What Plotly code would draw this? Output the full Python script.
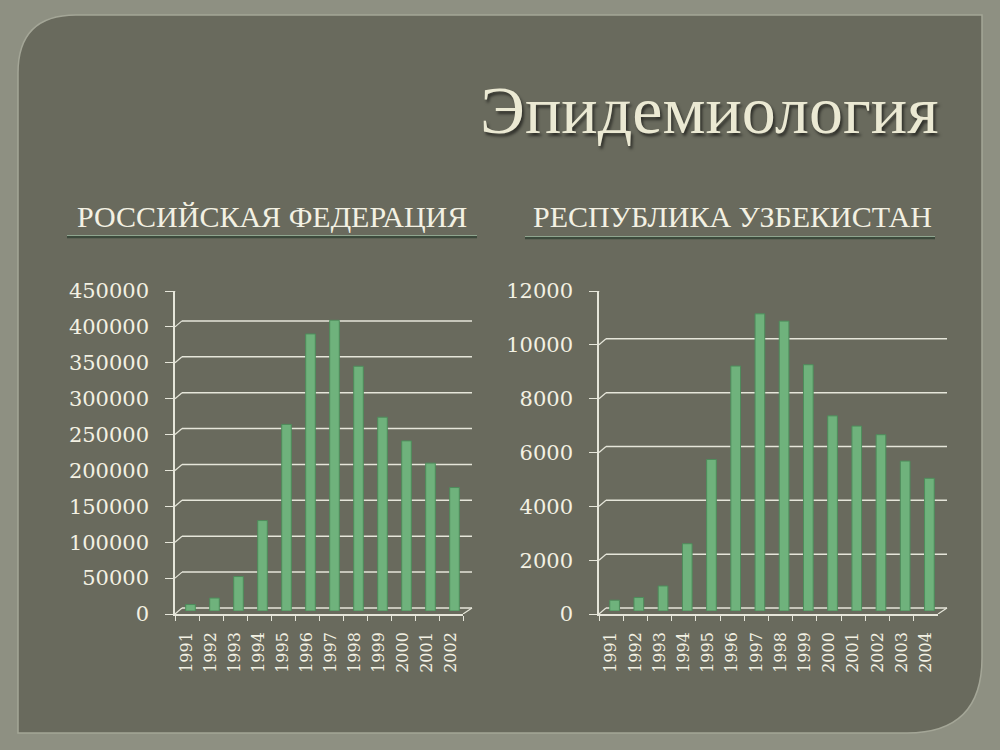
import plotly.graph_objects as go

# ---- data ----
title_text = "Эпидемиология"
left_title = "РОССИЙСКАЯ ФЕДЕРАЦИЯ"
right_title = "РЕСПУБЛИКА УЗБЕКИСТАН"

ru_years = ["1991", "1992", "1993", "1994", "1995", "1996", "1997", "1998", "1999", "2000", "2001", "2002"]
ru_values = [9000, 18000, 48000, 126000, 260000, 386000, 405000, 341000, 270000, 237000, 206000, 172000]

uz_years = ["1991", "1992", "1993", "1994", "1995", "1996", "1997", "1998", "1999", "2000", "2001", "2002", "2003", "2004"]
uz_values = [400, 500, 930, 2500, 5630, 9100, 11040, 10770, 9150, 7250, 6870, 6550, 5570, 4930]

ru_ticks = [0, 50000, 100000, 150000, 200000, 250000, 300000, 350000, 400000, 450000]
uz_ticks = [0, 2000, 4000, 6000, 8000, 10000, 12000]

# ---- style ----
W, H = 1000, 750
FRAME = "#8e9082"
PANEL = "#696a5d"
TXT = "#f3f1e3"
GRID = "#e6e6da"
BAR = "#6fb27c"
BAR_EDGE = "#4e8c5b"

def px(x, y):
    return x / W, 1 - y / H

y_top, y_bot = 291, 614
left_px = (175, 463)
right_px = (599, 938)
DX, DY = 7, 6   # 3D depth offset in pixels
ydom = [1 - y_bot / H, 1 - y_top / H]
# bars sit half-way into the depth of the 3D box
ydom_mid = [1 - (y_bot - DY / 2) / H, 1 - (y_top - DY / 2) / H]

fig = go.Figure()

# invisible traces keep the front (labelled) axes populated
fig.add_trace(go.Scatter(x=ru_years, y=ru_values, xaxis="x", yaxis="y", mode="markers",
                         marker=dict(opacity=0), showlegend=False, hoverinfo="skip"))
fig.add_trace(go.Scatter(x=uz_years, y=uz_values, xaxis="x2", yaxis="y2", mode="markers",
                         marker=dict(opacity=0), showlegend=False, hoverinfo="skip"))
# visible bars on the mid-depth axes
fig.add_trace(go.Bar(x=ru_years, y=ru_values, xaxis="x3", yaxis="y3",
                     marker=dict(color=BAR, line=dict(color=BAR_EDGE, width=1)),
                     width=0.4, showlegend=False, hoverinfo="skip"))
fig.add_trace(go.Bar(x=uz_years, y=uz_values, xaxis="x4", yaxis="y4",
                     marker=dict(color=BAR, line=dict(color=BAR_EDGE, width=1)),
                     width=0.4, showlegend=False, hoverinfo="skip"))

tickfont_y = dict(family="DejaVu Serif", size=21, color=TXT)
tickfont_x = dict(family="DejaVu Serif", size=16, color=TXT)

common_x = dict(type="category", tickangle=-90, tickfont=tickfont_x, showgrid=False,
                showline=True, linecolor=GRID, linewidth=1.5, ticks="outside",
                tickcolor=GRID, ticklen=5, tickson="boundaries", zeroline=False,
                ticklabelstandoff=10, automargin=False)
common_y = dict(tickfont=tickfont_y, showgrid=False,
                showline=True, linecolor=GRID, linewidth=1.5, ticks="outside",
                tickcolor=GRID, ticklen=8, zeroline=False, ticklabelstandoff=12,
                automargin=False)
hidden = dict(visible=False, showgrid=False, zeroline=False, automargin=False)

def dom(a, b, shift=0):
    return [(a + shift) / W, (b + shift) / W]

fig.update_layout(
    width=W, height=H,
    margin=dict(l=0, r=0, t=0, b=0, pad=0, autoexpand=False),
    paper_bgcolor=FRAME,
    plot_bgcolor="rgba(0,0,0,0)",
    xaxis=dict(domain=dom(*left_px), anchor="y", range=[-0.5, len(ru_years) - 0.5], **common_x),
    yaxis=dict(domain=ydom, anchor="x", range=[0, 450000], tickvals=ru_ticks,
               ticktext=[str(v) for v in ru_ticks], **common_y),
    xaxis2=dict(domain=dom(*right_px), anchor="y2", range=[-0.5, len(uz_years) - 0.5], **common_x),
    yaxis2=dict(domain=ydom, anchor="x2", range=[0, 12000], tickvals=uz_ticks,
                ticktext=[str(v) for v in uz_ticks], **common_y),
    xaxis3=dict(domain=dom(*left_px, DX / 2), anchor="y3", type="category",
                range=[-0.5, len(ru_years) - 0.5], **hidden),
    yaxis3=dict(domain=ydom_mid, anchor="x3", range=[0, 450000], **hidden),
    xaxis4=dict(domain=dom(*right_px, DX / 2), anchor="y4", type="category",
                range=[-0.5, len(uz_years) - 0.5], **hidden),
    yaxis4=dict(domain=ydom_mid, anchor="x4", range=[0, 12000], **hidden),
)

# ---- panel with rounded top-left and bottom-right corners ----
L, T, R, B = 18, 15, 982, 733
r1, r2 = 58, 75
def P(x, y):
    a, b = px(x, y)
    return f"{a:.5f},{b:.5f}"
path = (f"M {P(L, T + r1)} Q {P(L, T)} {P(L + r1, T)} L {P(R, T)} L {P(R, B - r2)} "
        f"Q {P(R, B)} {P(R - r2, B)} L {P(L, B)} Z")
fig.add_shape(type="path", path=path, xref="paper", yref="paper",
              fillcolor=PANEL, line=dict(color="#a4a697", width=1.5), layer="below")

# ---- pseudo-3D back-wall gridlines ----
for (xl, xr), ticks, yref, ymax in [(left_px, ru_ticks, "y", 450000),
                                    (right_px, uz_ticks, "y2", 12000)]:
    dv = DY / (y_bot - y_top) * ymax
    for v in ticks:
        fig.add_shape(type="line", xref="paper", yref=yref,
                      x0=(xl + DX) / W, x1=(xr + DX + 2) / W, y0=v + dv, y1=v + dv,
                      line=dict(color=GRID, width=1.5), layer="below")
        fig.add_shape(type="line", xref="paper", yref=yref,
                      x0=xl / W, x1=(xl + DX) / W, y0=v, y1=v + dv,
                      line=dict(color=GRID, width=1.2), layer="below")
    fig.add_shape(type="line", xref="paper", yref=yref,
                  x0=xr / W, x1=(xr + DX + 2) / W, y0=0, y1=dv,
                  line=dict(color=GRID, width=1.2), layer="below")

# underline bars under subtitles
for x0, x1, y in [(67, 477, 237), (525, 935, 238)]:
    a0, b0 = px(x0, y)
    a1, _ = px(x1, y)
    fig.add_shape(type="line", x0=a0, x1=a1, y0=b0, y1=b0, xref="paper", yref="paper",
                  line=dict(color="#3c4a3c", width=2.5), layer="below")
    _, b2 = px(x0, y - 1.5)
    fig.add_shape(type="line", x0=a0, x1=a1, y0=b2, y1=b2, xref="paper", yref="paper",
                  line=dict(color="#8fa58f", width=1), layer="below")

# ---- texts ----
tx, ty = px(940, 110)
fig.add_annotation(text=title_text, x=tx, y=ty, xref="paper", yref="paper",
                   xanchor="right", yanchor="middle", showarrow=False,
                   font=dict(family="Liberation Serif", size=68, color="#ebe9d3",
                             shadow="2px 3px 3px rgba(0,0,0,0.55)"))
for text, cx in [(left_title, 272), (right_title, 732)]:
    a, b = px(cx, 216)
    fig.add_annotation(text=text, x=a, y=b, xref="paper", yref="paper",
                       xanchor="center", yanchor="middle", showarrow=False,
                       font=dict(family="Liberation Serif", size=30, color=TXT))

fig.write_html("out.html", config={"displayModeBar": False},
               post_script="document.body.style.margin='0';document.body.style.overflow='hidden';")
